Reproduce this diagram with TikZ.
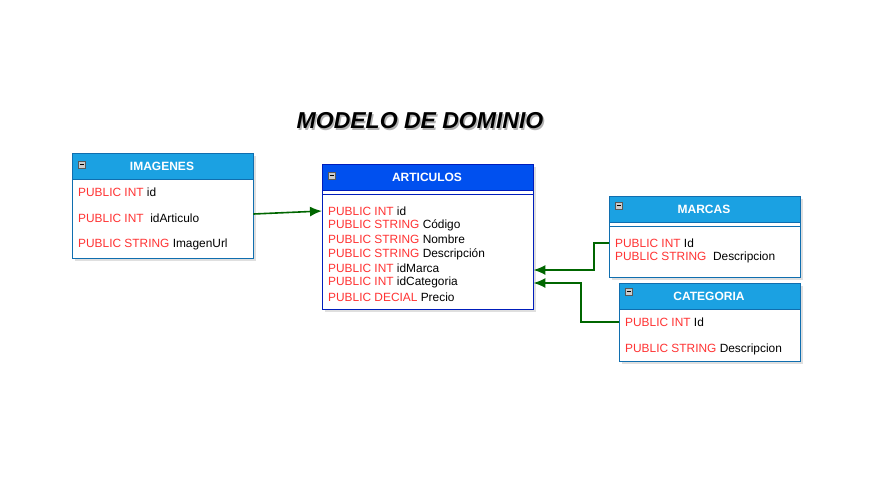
\documentclass[tikz,border=0pt]{standalone}
\usepackage{fontspec}
\setmainfont{Liberation Sans}
\usepackage{tikz}
\usetikzlibrary{arrows.meta,shadows}
\definecolor{cyanhead}{RGB}{27, 161, 226}
\definecolor{cyanline}{RGB}{16, 110, 175}
\definecolor{bluehead}{RGB}{0, 80, 239}
\definecolor{blueline}{RGB}{0, 29, 188}
\definecolor{keyred}{RGB}{255, 51, 51}
\definecolor{relgreen}{RGB}{0, 102, 0}
\newcommand{\kw}[1]{\textcolor{keyred}{#1}}

\tikzset{
  table/.style={draw=cyanline, fill=white, anchor=north west, inner sep=0pt,
                drop shadow={shadow xshift=3pt, shadow yshift=-3pt, fill=black!25}},
  headbox/.style={draw=cyanline, fill=cyanhead, anchor=north west, inner sep=0pt},
  headtext/.style={text=white, font=\fontsize{12}{14}\selectfont\bfseries},
  row/.style={anchor=west, inner sep=0pt, font=\fontsize{11.9}{13}\selectfont},
  minus/.style={draw=black!65, fill=black!20, minimum size=7pt, inner sep=0pt},
  rel/.style={draw=relgreen, line width=1.6pt, -{Latex[length=12pt,width=10pt]}},
}

\begin{document}
\begin{tikzpicture}[x=1pt, y=-1pt]
  \useasboundingbox (0,0) rectangle (873,480);

  % title
  \node[font=\fontsize{23}{27}\selectfont\bfseries\itshape, text=black!30] at (421.5,122.5) {MODELO DE DOMINIO};
  \node[font=\fontsize{23}{27}\selectfont\bfseries\itshape] (title) at (420,121) {MODELO DE DOMINIO};

  % IMAGENES
  \node[table, minimum width=181pt, minimum height=105pt] (imagenes) at (72,153) {};
  \node[headbox, minimum width=181pt, minimum height=26pt] (imagenes-h) at (72,153) {};
  \node[headtext] at (162,166) {IMAGENES};
  \node[minus] at (81.5,164.5) {};
  \draw[black, line width=1pt] (79.5,164.5) -- (83.5,164.5);
  \node[row] (img1) at (78,192) {\kw{PUBLIC INT} id};
  \node[row] (img2) at (78,218) {\kw{PUBLIC INT}\ \ idArticulo};
  \node[row] (img3) at (78,244) {\kw{PUBLIC STRING} ImagenUrl};

  % ARTICULOS
  \node[table, draw=blueline, minimum width=211pt, minimum height=145pt] (articulos) at (322,164) {};
  \node[headbox, draw=blueline, fill=bluehead, minimum width=211pt, minimum height=26pt] (articulos-h) at (322,164) {};
  \draw[blueline] (322,194) -- (533,194);
  \node[headtext] at (427,177) {ARTICULOS};
  \node[minus] at (331.5,175.5) {};
  \draw[black, line width=1pt] (329.5,175.5) -- (333.5,175.5);
  \node[row] (art1) at (328,211) {\kw{PUBLIC INT} id};
  \node[row] (art2) at (328,225.3) {\kw{PUBLIC STRING} Código};
  \node[row] (art3) at (328,239.6) {\kw{PUBLIC STRING} Nombre};
  \node[row] (art4) at (328,254) {\kw{PUBLIC STRING} Descripción};
  \node[row] (art5) at (328,268.3) {\kw{PUBLIC INT} idMarca};
  \node[row] (art6) at (328,282.6) {\kw{PUBLIC INT} idCategoria};
  \node[row] (art7) at (328,297) {\kw{PUBLIC DECIAL} Precio};

  % MARCAS
  \node[table, minimum width=191pt, minimum height=81pt] (marcas) at (609,196) {};
  \node[headbox, minimum width=191pt, minimum height=26pt] (marcas-h) at (609,196) {};
  \draw[cyanline] (609,226) -- (800,226);
  \node[headtext] at (704,209) {MARCAS};
  \node[minus] at (618.5,205.5) {};
  \draw[black, line width=1pt] (616.5,205.5) -- (620.5,205.5);
  \node[row] (mar1) at (615,243) {\kw{PUBLIC INT} Id};
  \node[row] (mar2) at (615,257) {\kw{PUBLIC STRING}\ \ Descripcion};

  % CATEGORIA
  \node[table, minimum width=181pt, minimum height=78pt] (categoria) at (619,283) {};
  \node[headbox, minimum width=181pt, minimum height=26pt] (categoria-h) at (619,283) {};
  \node[headtext] at (709,296) {CATEGORIA};
  \node[minus] at (628.5,291.5) {};
  \draw[black, line width=1pt] (626.5,291.5) -- (630.5,291.5);
  \node[row] (cat1) at (625,322) {\kw{PUBLIC INT} Id};
  \node[row] (cat2) at (625,349) {\kw{PUBLIC STRING} Descripcion};

  % relations
  \draw[rel] (imagenes.east |- 0,214) -- (articulos.west |- art1);
  \draw[rel] (marcas.west |- mar1) -- (594,243) -- (594,270) -- (articulos.east |- 0,270);
  \draw[rel] (categoria.west |- cat1) -- (581,322) -- (581,283) -- (articulos.east |- 0,283);
\end{tikzpicture}
\end{document}
